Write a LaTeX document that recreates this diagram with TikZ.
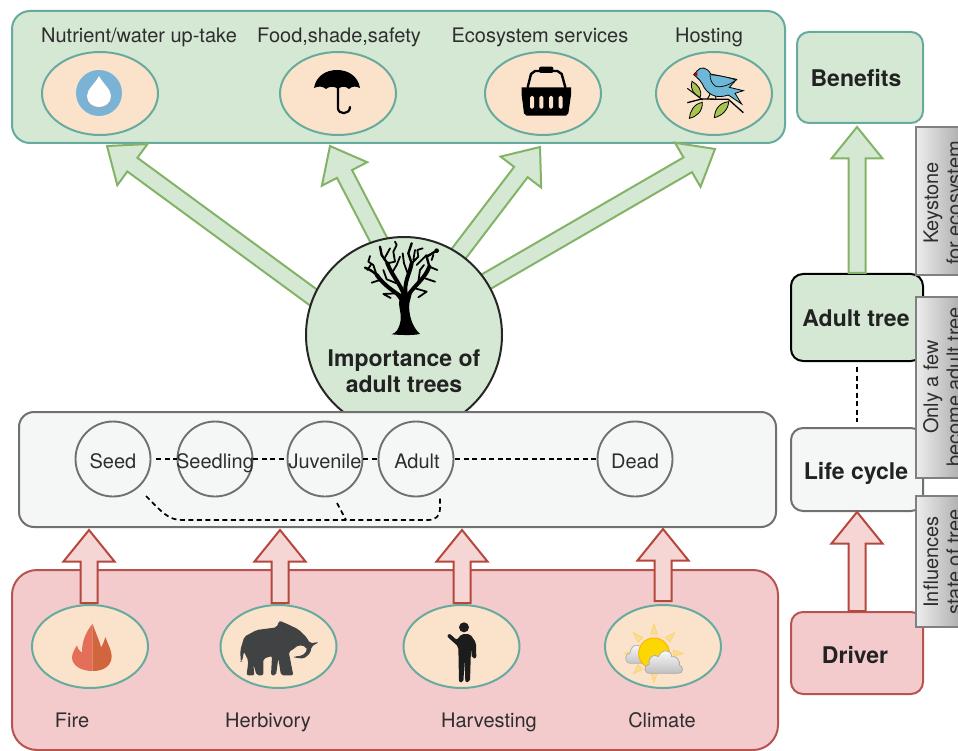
\documentclass[tikz,border=0pt]{standalone}
\usepackage{fontspec}
\setmainfont{TeX Gyre Heros}
\usetikzlibrary{shapes.geometric,calc}
\definecolor{gfill}{HTML}{D5E8D4}
\definecolor{teal}{HTML}{67AB9F}
\definecolor{peach}{HTML}{FBE3CB}
\definecolor{rfill}{HTML}{F3CBCD}
\definecolor{rline}{HTML}{B85450}
\definecolor{afill}{HTML}{F6D6D5}
\definecolor{aline}{HTML}{B5473C}
\definecolor{gline}{HTML}{82B366}
\definecolor{lifefill}{HTML}{F5F7F7}
\definecolor{lifeline}{HTML}{707070}
\definecolor{ink}{HTML}{2E2E2E}
\definecolor{boldink}{HTML}{222222}
\tikzset{
 panel/.style={draw,line width=2pt,inner sep=0pt},
 greenpanel/.style={panel,draw=teal,fill=gfill},
 redpanel/.style={panel,draw=rline,fill=rfill},
 lifepanel/.style={panel,draw=lifeline,fill=lifefill},
 iconoval/.style={ellipse,draw=teal,fill=peach,line width=2pt,minimum width=116pt,minimum height=83pt,inner sep=0pt},
 stagenode/.style={circle,draw=lifeline,fill=lifefill,line width=1.9pt,minimum size=75pt,inner sep=0pt},
 lbl/.style={anchor=base,text=ink,font=\fontsize{20}{22}\selectfont,inner sep=0pt},
 boldlbl/.style={anchor=base,text=boldink,font=\fontsize{23}{26}\selectfont\bfseries,inner sep=0pt},
 sidenote/.style={rotate=90,anchor=base,text=ink,font=\fontsize{20}{22}\selectfont,inner sep=0pt},
 sidebox/.style={draw=gray,line width=1.8pt,left color=white!93!black,right color=black!38},
 dashline/.style={line width=1.7pt,dash pattern=on 5pt off 3.5pt,black},
 greenarrow/.style={draw=gline,fill=gfill,line width=2pt,line join=miter},
 redarrow/.style={draw=aline,fill=afill,line width=2pt,line join=miter},
}
\newcommand{\blockarrow}[3]{%
 \coordinate (neck) at ($(#3)!31.5pt!(#2)$);
 \draw[#1] ($(#2)!8.5pt!90:(#3)$) -- ($(neck)!8.5pt!90:(#3)$) -- ($(neck)!25.5pt!90:(#3)$) -- (#3) -- ($(neck)!25.5pt!-90:(#3)$) -- ($(neck)!8.5pt!-90:(#3)$) -- ($(#2)!8.5pt!-90:(#3)$) -- cycle;}
\begin{document}
\begin{tikzpicture}[x=1pt,y=-1pt]
\useasboundingbox (0,0) rectangle (958,751);
\clip (0,0) rectangle (958,751);
% panels
\node[greenpanel,rounded corners=18pt,minimum width=773pt,minimum height=132pt] (top) at (398.5,77) {};
\node[greenpanel,rounded corners=12pt,minimum width=126pt,minimum height=91pt] (benefits) at (860,77.5) {};
\node[redpanel,rounded corners=25pt,minimum width=766pt,minimum height=180pt] (bottom) at (395,660) {};
% green arrows
\coordinate (t1) at (340,317); \coordinate (h1) at (107,146);
\coordinate (t2) at (385,252); \coordinate (h2) at (330,146);
\coordinate (t3) at (450,265); \coordinate (h3) at (540,147);
\coordinate (t4) at (470,291); \coordinate (h4) at (715,149);
\blockarrow{greenarrow}{t1}{h1}
\blockarrow{greenarrow}{t2}{h2}
\blockarrow{greenarrow}{t3}{h3}
\blockarrow{greenarrow}{t4}{h4}
% importance circle
\node[circle,draw=black!85,fill=gfill,line width=2pt,minimum size=196pt,inner sep=0pt] (importance) at (404,335) {};
% right column
\node[panel,draw=black,fill=gfill,rounded corners=12pt,minimum width=132pt,minimum height=87pt] (adult) at (857,317.5) {};
\node[lifepanel,rounded corners=12pt,minimum width=132pt,minimum height=83pt] (lifecycle) at (857,469.5) {};
\node[redpanel,rounded corners=12pt,minimum width=132pt,minimum height=82pt] (driver) at (857,653) {};
\coordinate (hb) at (857,127);
\coordinate (hl) at (857,512);
\blockarrow{greenarrow}{adult.north}{hb}
\blockarrow{redarrow}{driver.north}{hl}
\draw[dashline,shorten <=5pt,shorten >=5pt] (adult) -- (lifecycle);
% life panel
\node[lifepanel,rounded corners=15pt,minimum width=757pt,minimum height=115pt] (life) at (397.5,469.5) {};
\node[stagenode] (seed) at (113,459) {};
\node[stagenode] (seedling) at (215,459) {};
\node[stagenode] (juvenile) at (325,459) {};
\node[stagenode] (adultstage) at (416,459) {};
\node[stagenode] (dead) at (635,459) {};
\draw[dashline,shorten <=5pt] (seed) -- (seedling);
\draw[dashline] (seedling) -- (juvenile);
\draw[dashline] (juvenile) -- (adultstage);
\draw[dashline,shorten <=1pt] (adultstage) -- (dead);
\node[lbl] at (113,468) {Seed};
\node[lbl] at (215,468) {Seedling};
\node[lbl] at (325,468) {Juvenile};
\node[lbl] at (417,468) {Adult};
\node[lbl] at (635,468) {Dead};
\coordinate (la) at (146,496); \coordinate (lb) at (440,497);
\coordinate (lc) at (337,503); \coordinate (ld) at (346,520);
\draw[dashline] (la) .. controls (162,512) and (168,520) .. (182,520) -- (428,520) .. controls (436,520) and (440,516) .. (440,508) -- (lb);
\draw[dashline] (lc) -- (ld);
% red arrows to life panel
\coordinate (r1) at (89,603); \coordinate (q1) at (89,530);
\coordinate (r2) at (280,603); \coordinate (q2) at (280,530);
\coordinate (r3) at (462,603); \coordinate (q3) at (462,530);
\coordinate (r4) at (663,601); \coordinate (q4) at (663,529);
\blockarrow{redarrow}{r1}{q1}
\blockarrow{redarrow}{r2}{q2}
\blockarrow{redarrow}{r3}{q3}
\blockarrow{redarrow}{r4}{q4}
% ovals
\node[iconoval] (o1) at (100,93.5) {};
\node[iconoval] (o2) at (338,93.5) {};
\node[iconoval] (o3) at (543,93.5) {};
\node[iconoval] (o4) at (714,93.5) {};
\node[iconoval] (o5) at (90,646.5) {};
\node[iconoval] (o6) at (278.5,646.5) {};
\node[iconoval] (o7) at (461.5,646.5) {};
\node[iconoval] (o8) at (663,646.5) {};
% labels
\node[lbl] at (139,43) {Nutrient/water up-take};
\node[lbl] at (339,43) {Food,shade,safety};
\node[lbl] at (540,43) {Ecosystem services};
\node[lbl] at (709,43) {Hosting};
\node[lbl] at (72,727) {Fire};
\node[lbl] at (268,727) {Herbivory};
\node[lbl] at (489,727) {Harvesting};
\node[lbl] at (662,727) {Climate};
\node[boldlbl] at (404,366) {Importance of};
\node[boldlbl] at (404,392.5) {adult trees};
\node[boldlbl] at (856,87) {Benefits};
\node[boldlbl] at (856,326.5) {Adult tree};
\node[boldlbl] at (856,479.5) {Life cycle};
\node[boldlbl] at (855,663) {Driver};
% side notes
\path[sidebox] (916,127) rectangle (972,275);
\path[sidebox] (916,297) rectangle (972,478);
\path[sidebox] (916,496) rectangle (972,627);
\node[sidenote] at (938,203) {Keystone};
\node[sidenote] at (961,203) {for ecosystem};
\node[sidenote] at (938,387) {Only a few};
\node[sidenote] at (961,387) {become adult tree};
\node[sidenote] at (938,562) {Influences};
\node[sidenote] at (961,562) {state of tree};
% water icon
\fill[color={rgb,255:red,122;green,179;blue,214}] (99,93) circle (23);
\fill[gray!70] (99,76.5) .. controls (103,84) and (111,90) .. (111,97) .. controls (111,104) and (105,108) .. (99,108) .. controls (93,108) and (87,104) .. (87,97) .. controls (87,90) and (95,84) .. (99,76.5) -- cycle;
\fill[white] (99,76) .. controls (103,84) and (111,89) .. (111,96) .. controls (111,103) and (105,107) .. (99,107) .. controls (93,107) and (87,103) .. (87,96) .. controls (87,89) and (95,84) .. (99,76) -- cycle;
% umbrella
\fill[black] (314,88) .. controls (316,76) and (326,70) .. (337,70) .. controls (348,70) and (358,76) .. (360,88)
  .. controls (356,86) and (352,86) .. (349,89) .. controls (346,86) and (341,86) .. (338,89) .. controls (335,86) and (329,86) .. (326,89) .. controls (323,86) and (318,86) .. (314,88) -- cycle;
\draw[black,line width=2.2pt,line cap=round] (338,88) -- (338,108) .. controls (338,115) and (350,115) .. (350,107);
% basket
\begin{scope}[shift={(480,0)},scale=1/3]
\fill[black] (125,262) -- (273,262) -- (273,285) -- (265,340) -- (258,347) -- (140,347) -- (132,340) -- (125,285) -- cycle;
\foreach \hx in {150,178,207,236}{\fill[peach,rounded corners=1.5pt] (\hx,288) rectangle ++(12,38);}
\draw[black,line width=2.4pt,line cap=round] (143,262) -- (153,222) -- (165,213) -- (232,213) -- (245,222) -- (256,262);
\fill[black,rounded corners=2pt] (177,200) rectangle (220,219);
\end{scope}
% bird
\begin{scope}[shift={(480,0)},scale=1/3]
\definecolor{birdb}{HTML}{6CB8D6}\definecolor{leaf}{HTML}{A6C44F}
\draw[black,line width=1pt] (622,265) -- (668,300);
\draw[black,line width=1.3pt] (622,308) -- (665,297) -- (745,298) -- (790,338);
\draw[fill=leaf,draw=black,line width=.8pt] (636,244) .. controls (628,270) and (645,285) .. (660,292) .. controls (668,272) and (655,255) .. (636,244) -- cycle;
\draw[fill=leaf,draw=black,line width=.8pt] (667,307) .. controls (640,312) and (630,335) .. (628,355) .. controls (650,350) and (668,335) .. (667,307) -- cycle;
\draw[fill=leaf,draw=black,line width=.8pt] (746,305) .. controls (720,308) and (705,325) .. (703,353) .. controls (725,348) and (745,330) .. (746,305) -- cycle;
\draw[black,line width=1pt] (690,283) -- (682,298) (706,285) -- (708,298);
\draw[fill=birdb,draw=black,line width=.8pt] (641,224) -- (652,212) .. controls (662,198) and (682,202) .. (692,222) -- (712,226) -- (770,238) -- (748,262) -- (790,272) -- (765,280) -- (785,312) -- (745,285) .. controls (715,295) and (690,290) .. (672,262) .. controls (665,245) and (655,235) .. (641,224) -- cycle;
\draw[fill=birdb,draw=black,line width=.7pt] (690,224) .. controls (715,226) and (745,232) .. (768,240) .. controls (750,255) and (720,265) .. (705,258) .. controls (695,250) and (690,238) .. (690,224) -- cycle;
\fill[red!70!black] (641,224) -- (652,216) -- (652,228) -- cycle;
\end{scope}
% tree
\begin{scope}[shift={(280,220)},scale=1/3,line cap=round,line join=round]
\fill[black] (335,343) .. controls (350,338) and (358,325) .. (362,300) .. controls (365,280) and (355,265) .. (358,240) -- (345,222) -- (395,222) -- (388,250) .. controls (385,280) and (395,320) .. (420,342) .. controls (395,347) and (360,345) .. (335,343) -- cycle;
\draw[black,line width=4pt] (370,235) .. controls (345,215) and (315,200) .. (290,165);
\draw[black,line width=2.4pt] (290,165) .. controls (280,155) and (268,148) .. (255,143);
\draw[black,line width=1.8pt] (290,165) -- (280,135) -- (265,125) -- (270,108) (300,180) -- (275,188) (262,150) -- (272,135);
\draw[black,line width=4pt] (372,225) .. controls (360,190) and (335,165) .. (322,130);
\draw[black,line width=2.4pt] (322,130) -- (305,105) -- (300,80);
\draw[black,line width=1.8pt] (322,130) -- (345,125) -- (340,95) -- (350,75) -- (345,65) (335,160) -- (350,135) -- (360,110) (312,118) -- (330,85) (350,190) -- (320,178) -- (310,150);
\draw[black,line width=4pt] (378,225) .. controls (370,190) and (388,165) .. (395,130);
\draw[black,line width=2.4pt] (395,130) -- (385,100) -- (395,70);
\draw[black,line width=1.8pt] (395,130) -- (415,110) -- (412,90) -- (428,85) (400,120) -- (405,90) (385,165) -- (372,130) -- (368,100) (410,135) -- (440,105);
\draw[black,line width=4pt] (385,225) .. controls (405,195) and (435,175) .. (448,140);
\draw[black,line width=2.4pt] (448,140) -- (440,110) -- (470,92);
\draw[black,line width=1.8pt] (448,140) -- (472,150) (435,175) -- (465,185) (405,205) -- (440,215) -- (415,232) (350,220) -- (310,222) -- (332,234) (415,185) -- (420,150) -- (432,135) (455,120) -- (460,105);
\fill[black] (470,92) circle (7);
\end{scope}
% fire
\begin{scope}[shift={(0,590)},scale=1/3]
\fill[color={rgb,255:red,228;green,111;blue,89}] (278,243) .. controls (240,243) and (215,225) .. (216,200) .. controls (217,190) and (225,175) .. (231,166) .. controls (234,178) and (240,185) .. (246,188) .. controls (245,155) and (258,125) .. (278,101) -- cycle;
\fill[color={rgb,255:red,209;green,102;blue,62}] (278,243) .. controls (315,243) and (335,225) .. (335,198) .. controls (335,182) and (325,165) .. (316,141) .. controls (312,155) and (308,165) .. (303,172) .. controls (298,150) and (285,125) .. (278,101) -- cycle;
\end{scope}
% elephant
\begin{scope}[shift={(0,590)},scale=1/3]
\fill[color={rgb,255:red,65;green,66;blue,68},rounded corners=2pt] (722,215) -- (721,180) -- (733,140) -- (770,120) -- (830,112) -- (838,92) -- (862,102) -- (895,118) -- (920,142) -- (930,160) -- (957,156) -- (934,170) -- (932,188) -- (912,206) -- (882,203) -- (885,198) -- (905,198) -- (922,182) -- (918,170) -- (895,165) -- (880,178) -- (866,185) -- (880,256) -- (843,256) -- (835,205) -- (828,256) -- (813,256) -- (816,198) -- (790,206) -- (790,256) -- (770,256) -- (760,222) -- (763,256) -- (740,256) -- (745,212) -- (732,185) -- (726,215) -- cycle;
\end{scope}
% person
\begin{scope}[shift={(390,590)},scale=1/3]
\fill[color={rgb,255:red,28;green,28;blue,28}] (222,112) circle (15);
\fill[color={rgb,255:red,28;green,28;blue,28},rounded corners=2pt] (170,138) -- (178,130) -- (200,150) -- (215,132) -- (240,132) -- (258,158) -- (259,205) -- (246,205) -- (243,175) -- (240,275) -- (226,277) -- (224,210) -- (220,277) -- (207,277) -- (205,170) -- cycle;
\end{scope}
% climate
\begin{scope}[shift={(390,590)},scale=1/3]
\definecolor{rayc}{HTML}{F8DC9A}
\foreach \ang in {0,45,...,315}{
 \draw[draw=orange!50!yellow!70,fill=rayc,line width=.5pt,rotate around={\ang:(792,190)}] (782,132) -- (792,102) -- (802,132) -- cycle;}
\draw[draw=gray!60,top color=white,bottom color=gray!45,line width=.8pt] (720,220) .. controls (700,215) and (705,190) .. (720,190) .. controls (722,160) and (755,155) .. (765,190) -- (770,220) -- cycle;
\draw[draw=orange!60!yellow,fill=yellow!75!orange,line width=1pt] (792,190) circle (46);
\draw[draw=gray!65,top color=white,bottom color=gray!50,line width=.8pt] (780,250) .. controls (760,250) and (760,225) .. (778,222) .. controls (772,200) and (795,190) .. (805,200) .. controls (815,175) and (845,178) .. (845,200) .. controls (860,195) and (872,215) .. (868,225) .. controls (882,230) and (880,250) .. (865,250) -- cycle;
\end{scope}
\end{tikzpicture}
\end{document}
